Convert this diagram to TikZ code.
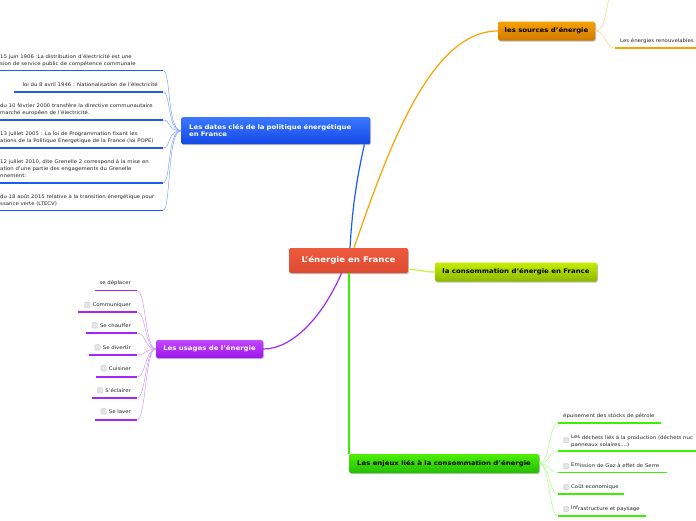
\documentclass[tikz,border=0pt]{standalone}
\usepackage{fontspec}
\setmainfont{DejaVu Sans}[FakeStretch=1.1]
\usetikzlibrary{shadows}
\definecolor{txt}{HTML}{262626}
\definecolor{redt}{HTML}{EE5A3E}
\definecolor{redb}{HTML}{DE4A30}
\definecolor{bluet}{HTML}{3A78FF}
\definecolor{blueb}{HTML}{1448E6}
\definecolor{bline}{HTML}{1E5BF5}
\definecolor{blite}{HTML}{7FA3FF}
\definecolor{oranget}{HTML}{F7A200}
\definecolor{orangeb}{HTML}{D07800}
\definecolor{oline}{HTML}{F9A300}
\definecolor{olite}{HTML}{FCCF80}
\definecolor{ygt}{HTML}{C6EE00}
\definecolor{ygb}{HTML}{8CB800}
\definecolor{ygline}{HTML}{C8F040}
\definecolor{purt}{HTML}{C348FF}
\definecolor{purb}{HTML}{9A14E8}
\definecolor{pline}{HTML}{A428F5}
\definecolor{plite}{HTML}{D29AFF}
\definecolor{grt}{HTML}{4CF000}
\definecolor{grb}{HTML}{22BE00}
\definecolor{gline}{HTML}{3CF000}
\definecolor{glite}{HTML}{A8FF88}
\definecolor{chkfill}{HTML}{E4E4E4}
\definecolor{chkdraw}{HTML}{CCCCCC}
\newcommand{\smallfont}{\fontsize{4.9}{6.7}\selectfont}
\newcommand{\ml}[1]{\begin{tabular}[t]{@{}l@{}}#1\end{tabular}}
\begin{document}
\begin{tikzpicture}[x=1pt,y=-1pt,
  topic/.style={rectangle, rounded corners=2pt, inner sep=0pt,
    drop shadow={shadow xshift=0.8pt, shadow yshift=-1pt, fill=black, opacity=0.25}},
  tfont/.style={font=\bfseries\fontsize{6.3}{7.6}\selectfont},
  leaf/.style={font=\smallfont, text=txt, inner sep=0pt},
  chk/.style={rectangle, rounded corners=1pt, fill=chkfill, draw=chkdraw, line width=0.3pt, minimum size=5.5pt, inner sep=0pt},
  bul/.style={bline, line width=1.6pt},
  bthin/.style={blite, line width=0.5pt},
  pul/.style={pline, line width=1.5pt},
  pthin/.style={plite, line width=0.5pt},
  gul/.style={gline, line width=1.8pt},
  gthin/.style={glite, line width=0.5pt},
  oul/.style={oline, line width=1.5pt},
  othin/.style={olite, line width=0.5pt}]
\useasboundingbox (0,0) rectangle (696,520);
\clip (0,0) rectangle (696,520);
\fill[white] (0,0) rectangle (696,520);

% ---- main topics
\node[topic, top color=redt, bottom color=redb, minimum width=119pt, minimum height=25pt,
  text=white, font=\bfseries\fontsize{7.8}{9}\selectfont] (root) at (348.5,260.5) {L'énergie en France};
\node[topic, top color=bluet, bottom color=blueb, anchor=north west, minimum height=27pt,
  inner xsep=8pt, text width=173pt, align=left, text=white, tfont] (dates) at (181,117)
  {Les dates clés de la politique énergétique\\en France};
\node[topic, top color=oranget, bottom color=orangeb, minimum width=97pt, minimum height=19pt,
  text=black, tfont] (src) at (546.5,31) {les sources d'énergie};
\node[topic, top color=ygt, bottom color=ygb, minimum width=162pt, minimum height=19pt,
  text=black, tfont] (cons) at (516,272) {la consommation d'énergie en France};
\node[topic, top color=purt, bottom color=purb, minimum width=107pt, minimum height=18pt,
  text=white, tfont] (usg) at (209.5,349) {Les usages de l'énergie};
\node[topic, top color=grt, bottom color=grb, minimum width=190pt, minimum height=19pt,
  text=black, tfont] (enj) at (444,463.5) {Les enjeux liés à la consommation d'énergie};

% ---- main connectors
\draw[bline, line width=1.2pt] ([xshift=1.5pt]root.north) .. controls (353,195) and (360,165) .. ([xshift=-6pt]dates.south east);
\draw[oline, line width=1.2pt] ([xshift=5.5pt]root.north) .. controls (388,150) and (430,31) .. (src.west);
\draw[ygline, line width=1.2pt] ([yshift=-9pt]root.east) .. controls (420,269.5) and (424,272) .. (cons.west);
\draw[pline, line width=1.2pt] ([xshift=-7pt]root.south) .. controls (322,318) and (292,349) .. (usg.east);
\draw[gline, line width=1.5pt] (root.south -| enj.west) -- (enj.north west);

% ---- orange children
\coordinate (offtop) at (609,-2);
\coordinate (o1s) at (615,48);
\coordinate (o1e) at (700,48);
\draw[othin] (src.east) .. controls (605,31) and (606,10) .. (offtop);
\draw[othin] (src.east) .. controls (606,31) and (605,48) .. (o1s);
\draw[oul] (o1s) -- (o1e);
\node[leaf, anchor=base west] (o1) at (620,42.6) {Les énergies renouvelables};

% ---- blue children
\foreach \n/\xs/\y in {1/-2/70.5, 2/14/92, 3/-2/120, 4/-2/148, 5/-2/183, 6/-2/210.5}{
  \coordinate (b\n s) at (\xs,\y);
  \coordinate (b\n e) at (163,\y);
  \draw[bul] (b\n s) -- (b\n e);
  \draw[bthin] (b\n e) .. controls (171,\y) and (167,130.5) .. (dates.west);
}
\node[leaf, anchor=base west] (bt1) at (0,58.3) {\ml{15 juin 1906 :La distribution d'électricité est une\\sion de service public de compétence communale}};
\node[leaf, anchor=base east] (bt2) at (158,86.3) {loi du 8 avril 1946 : Nationalisation de l'électricité};
\node[leaf, anchor=base west] (bt3) at (0,107.6) {\ml{du 10 février 2000 transfère la directive communautaire\\marché européen de l'électricité.}};
\node[leaf, anchor=base west] (bt4) at (0,135.6) {\ml{13 juillet 2005 : La loi de Programmation fixant les\\ations de la Politique Énergetique de la France (loi POPE)}};
\node[leaf, anchor=base west] (bt5) at (0,163.9) {\ml{12 juillet 2010, dite Grenelle 2 correspond à la mise en\\ation d'une partie des engagements du Grenelle\\nnement:}};
\node[leaf, anchor=base west] (bt6) at (0,198.6) {\ml{du 18 août 2015 relative à la transition énergétique pour\\ssance verte (LTECV)}};

% ---- purple children
\foreach \n/\xs/\y in {1/95/290.7, 2/78/312, 3/86/333, 4/89/355, 5/96/377, 6/92/398, 7/95/420}{
  \coordinate (p\n s) at (\xs,\y);
  \coordinate (p\n e) at (137,\y);
  \draw[pul] (p\n s) -- (p\n e);
  \draw[pthin] (p\n e) .. controls (146,\y) and (145,349) .. (usg.west);
}
\node[leaf, anchor=base east] (pt1) at (131,284.6) {se déplacer};
\node[leaf, anchor=base east] (pt2) at (131,306.6) {Communiquer};
\node[leaf, anchor=base east] (pt3) at (131,327.6) {Se chauffer};
\node[leaf, anchor=base east] (pt4) at (131,349.6) {Se divertir};
\node[leaf, anchor=base east] (pt5) at (131,370.6) {Cuisiner};
\node[leaf, anchor=base east] (pt6) at (131,392.6) {S'éclairer};
\node[leaf, anchor=base east] (pt7) at (131,413.6) {Se laver};
\foreach \n in {2,...,7}{
  \node[chk, anchor=east] (pc\n) at ([xshift=-2.2pt,yshift=0.4pt]pt\n.west) {};
}

% ---- green children
\foreach \n/\xe/\y in {1/661/423, 2/700/451, 3/667/472.5, 4/624/494, 5/646/516}{
  \coordinate (g\n s) at (558,\y);
  \coordinate (g\n e) at (\xe,\y);
  \draw[gthin] (enj.east) .. controls (550,463.5) and (549,\y) .. (g\n s);
  \draw[gul] (g\n s) -- (g\n e);
}
\node[leaf, anchor=base west] (gt1) at (563,417.6) {épuisement des stocks de pétrole};
\node[leaf, anchor=base west] (gt2) at (571,439.6) {\ml{\raisebox{1.2pt}{Les} déchets liés à la production (déchets nuc\\panneaux solaires....)}};
\node[leaf, anchor=base west] (gt3) at (571,467.6) {\raisebox{1pt}{Em}ission de Gaz à effet de Serre};
\node[leaf, anchor=base west] (gt4) at (571,488.6) {Coût economique};
\node[leaf, anchor=base west] (gt5) at (571,510.6) {\raisebox{1pt}{Inf}rastructure et paysage};
\node[chk] (gc2) at (566,440) {};
\node[chk] (gc3) at (566,466) {};
\node[chk] (gc4) at (566,487) {};
\node[chk] (gc5) at (566,509) {};
\end{tikzpicture}
\end{document}
